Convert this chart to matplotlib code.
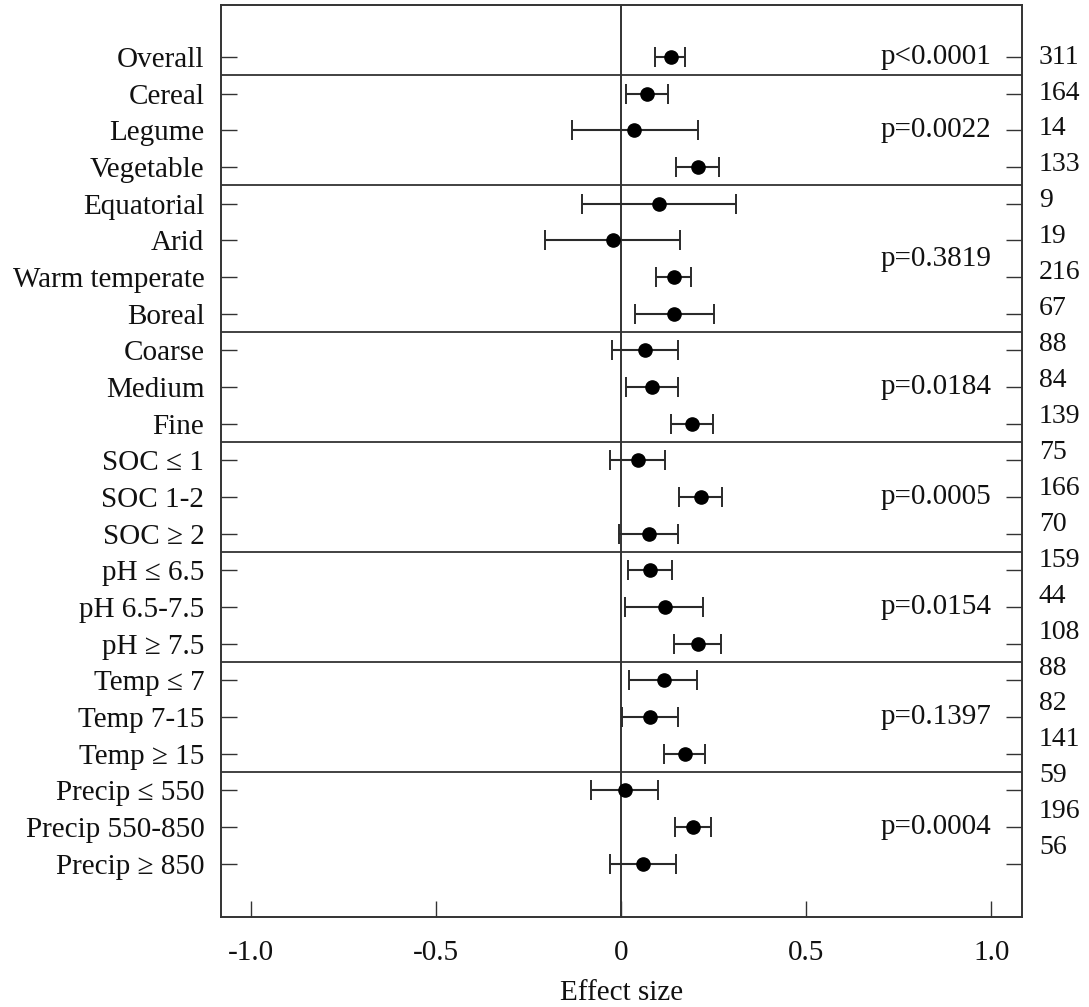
import numpy as np
import matplotlib
matplotlib.use('Agg')
import matplotlib.pyplot as plt
import matplotlib.transforms as mtransforms

plt.rcParams['font.family'] = ['Liberation Serif', 'DejaVu Serif']

# data
labels = ['Overall',
          'Cereal', 'Legume', 'Vegetable',
          'Equatorial', 'Arid', 'Warm temperate', 'Boreal',
          'Coarse', 'Medium', 'Fine',
          'SOC \u2264 1', 'SOC 1-2', 'SOC \u2265 2',
          'pH \u2264 6.5', 'pH 6.5-7.5', 'pH \u2265 7.5',
          'Temp \u2264 7', 'Temp 7-15', 'Temp \u2265 15',
          'Precip \u2264 550', 'Precip 550-850', 'Precip \u2265 850']
effect = [0.134,
          0.071, 0.035, 0.208,
          0.103, -0.021, 0.143, 0.144,
          0.066, 0.084, 0.192,
          0.046, 0.216, 0.075,
          0.079, 0.118, 0.207,
          0.116, 0.078, 0.172,
          0.011, 0.194, 0.060]
ci_low = [0.093,
          0.013, -0.133, 0.150,
          -0.106, -0.205, 0.096, 0.038,
          -0.023, 0.013, 0.135,
          -0.030, 0.157, -0.005,
          0.020, 0.012, 0.143,
          0.022, 0.004, 0.116,
          -0.082, 0.146, -0.030]
ci_high = [0.174,
           0.128, 0.207, 0.265,
           0.312, 0.159, 0.189, 0.252,
           0.155, 0.155, 0.249,
           0.119, 0.273, 0.155,
           0.137, 0.222, 0.270,
           0.206, 0.153, 0.227,
           0.099, 0.244, 0.150]
n_obs = [311, 164, 14, 133, 9, 19, 216, 67, 88, 84, 139, 75, 166, 70,
         159, 44, 108, 88, 82, 141, 59, 196, 56]
group_sizes = [1, 3, 4, 3, 3, 3, 3, 3]
p_values = ['p<0.0001', 'p=0.0022', 'p=0.3819', 'p=0.0184',
            'p=0.0005', 'p=0.0154', 'p=0.1397', 'p=0.0004']

ypos = np.arange(len(labels))
eff = np.array(effect)
lo = eff - np.array(ci_low)
hi = np.array(ci_high) - eff

fig = plt.figure(figsize=(10.89, 10.07), dpi=100)
ax = fig.add_axes([221/1089, 1-917/1007, (1022-221)/1089, (917-5)/1007])

# zero line and group separators
ax.axvline(0, color='#222222', lw=1.3, zorder=1)
bounds = np.cumsum(group_sizes)[:-1] - 0.5
for b in bounds:
    ax.axhline(b, color='#333333', lw=1.3, zorder=1)

eb = ax.errorbar(eff, ypos, xerr=[lo, hi], fmt='o', color='black', ms=9.5,
                 ecolor='#2a2a2a', elinewidth=1.5, capsize=7.5, capthick=1.4,
                 zorder=3)
for cl in eb[1]:
    cl.set_color('#8a8a8a')

# p-values at group centres
starts = np.concatenate([[0], np.cumsum(group_sizes)[:-1]])
for s, g, p in zip(starts, group_sizes, p_values):
    ax.text(1.0, s + (g - 1) / 2, p, ha='right', va='center', fontsize=21,
            color='#111111')

# sample sizes on the right, slightly tighter spacing than the rows
trans = mtransforms.blended_transform_factory(ax.transAxes, ax.transData)
num_step = 0.98
for i, n in enumerate(n_obs):
    ax.text(1.021, i * num_step, str(n), transform=trans, ha='left',
            va='center', fontsize=20, color='#111111', clip_on=False)

ax.set_xlim(-1.08, 1.083)
ax.set_ylim(23.45, -1.42)
ax.set_xticks([-1.0, -0.5, 0, 0.5, 1.0])
ax.set_xticklabels(['-1.0', '-0.5', '0', '0.5', '1.0'])
ax.set_yticks(ypos)
ax.set_yticklabels(labels)
ax.tick_params(axis='y', direction='in', length=11.5, width=1, right=True,
               labelsize=21, pad=12, colors='#333333', labelcolor='#111111')
ax.tick_params(axis='x', direction='in', length=11.5, width=1,
               labelsize=21, pad=16.5, colors='#333333', labelcolor='#111111')
ax.set_xlabel('Effect size', fontsize=21, labelpad=10, color='#111111')
for sp in ax.spines.values():
    sp.set_linewidth(1.4)
    sp.set_color('#333333')

fig.savefig('out.png', dpi=100)
